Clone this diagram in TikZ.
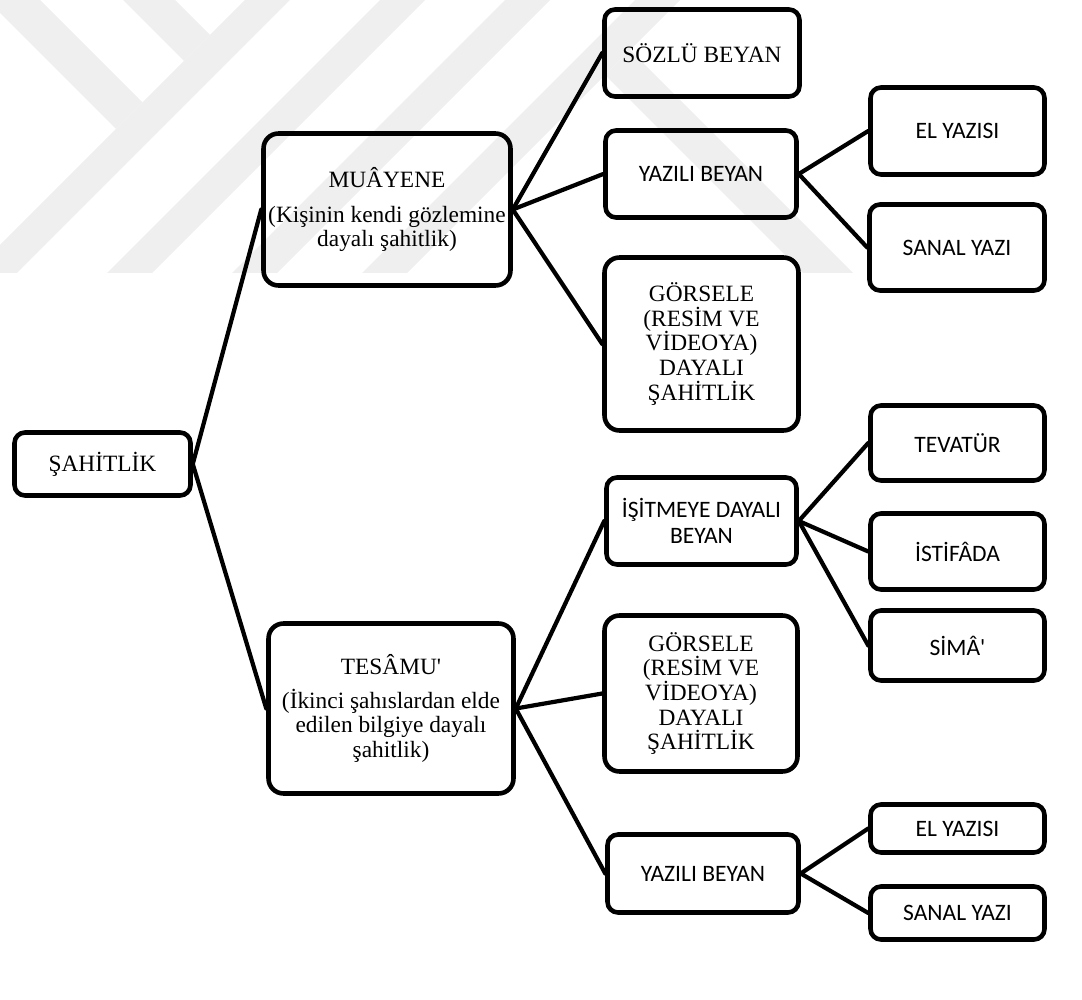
\documentclass[tikz,border=0pt]{standalone}
\usepackage{fontspec}
\setmainfont{Liberation Serif}
\newfontfamily\calibri{Carlito}
\usepackage{tikz}
\usetikzlibrary{positioning}
\definecolor{markgray}{RGB}{239,239,239}

\tikzset{
  kutu/.style={draw=black, line width=2.6pt, rounded corners=6pt, align=center, inner sep=2pt,
    font=\fontsize{13.3}{14}\selectfont},
  buyuk/.style={kutu, rounded corners=8.5pt},
  duz/.style={kutu, font=\calibri\fontsize{13.4}{14.6}\selectfont},
  baglanti/.style={line width=2.4pt, line cap=round}
}

\begin{document}
\begin{tikzpicture}[x=0.02cm, y=-0.02cm]
    \useasboundingbox (0,0) rectangle (1082,1000);
    % filigran
    \fill[markgray] (0,0) -- (40,0) -- (142.5,102.5) -- (116,129) -- (0,13) -- cycle;
    \fill[markgray] (123,0) -- (175,0) -- (210,35) -- (184,61) -- cycle;
    \fill[markgray] (245,0) -- (290,0) -- (17,273) -- (0,273) -- (0,245) -- cycle;
    \fill[markgray] (380,0) -- (425,0) -- (152,273) -- (107,273) -- cycle;
    \fill[markgray] (505,0) -- (550,0) -- (277,273) -- (232,273) -- cycle;
    \fill[markgray] (635,0) -- (680,0) -- (407,273) -- (362,273) -- cycle;
    \fill[markgray] (630,50) -- (853,273) -- (803,273) -- (605,75) -- cycle;

    % kutular
    \node[kutu, minimum width=3.52cm, minimum height=1.26cm] (sah) at (102.5,464) {ŞAHİTLİK};
    \node[buyuk, minimum width=4.94cm, minimum height=3.04cm] (mua) at (387,209.5)
        {MUÂYENE\\[5.8pt] (Kişinin kendi gözlemine\\ dayalı şahitlik)};
    \node[buyuk, minimum width=4.90cm, minimum height=3.40cm] (tes) at (391,708.5)
        {\baselineskip=12.6pt TESÂMU\textquotesingle\\[5pt] (İkinci şahıslardan elde\\ edilen bilgiye dayalı\\ şahitlik)};

    \node[kutu, minimum width=3.90cm, minimum height=1.74cm] (soz) at (702,53) {SÖZLÜ BEYAN};
    \node[duz, minimum width=3.82cm, minimum height=1.74cm] (yaz1) at (701,174) {YAZILI BEYAN};
    \node[buyuk, minimum width=3.88cm, minimum height=3.46cm] (gor1) at (701.5,344)
        {GÖRSELE\\ (RESİM VE\\ VİDEOYA)\\ DAYALI\\ ŞAHİTLİK};
    \node[duz, minimum width=3.80cm, minimum height=1.74cm] (isit) at (701.5,521)
        {İŞİTMEYE DAYALI\\ BEYAN};
    \node[buyuk, minimum width=3.86cm, minimum height=3.12cm] (gor2) at (701,693.5)
        {GÖRSELE\\ (RESİM VE\\ VİDEOYA)\\ DAYALI\\ ŞAHİTLİK};
    \node[duz, minimum width=3.82cm, minimum height=1.56cm] (yaz2) at (703,873.5) {YAZILI BEYAN};

    \node[duz, minimum width=3.48cm, minimum height=1.74cm] (el1) at (957.5,131) {EL YAZISI};
    \node[duz, minimum width=3.50cm, minimum height=1.72cm] (san1) at (957,247.5) {SANAL YAZI};
    \node[duz, minimum width=3.48cm, minimum height=1.50cm] (tev) at (957.5,443) {TEVATÜR};
    \node[duz, minimum width=3.48cm, minimum height=1.52cm] (ist) at (957.5,551.5) {İSTİFÂDA};
    \node[duz, minimum width=3.48cm, minimum height=1.40cm] (sim) at (957.5,645.5) {SİMÂ\textquotesingle};
    \node[duz, minimum width=3.48cm, minimum height=0.96cm] (el2) at (957.5,828.5) {EL YAZISI};
    \node[duz, minimum width=3.48cm, minimum height=1.06cm] (san2) at (957.5,913) {SANAL YAZI};

    % baglantilar
    \foreach \a/\b in {sah/mua, sah/tes, mua/soz, mua/yaz1, mua/gor1, yaz1/el1, yaz1/san1,
        tes/isit, tes/gor2, tes/yaz2, isit/tev, isit/ist, isit/sim, yaz2/el2, yaz2/san2}
        \draw[baglanti] (\a.east) -- (\b.west);
\end{tikzpicture}
\end{document}
